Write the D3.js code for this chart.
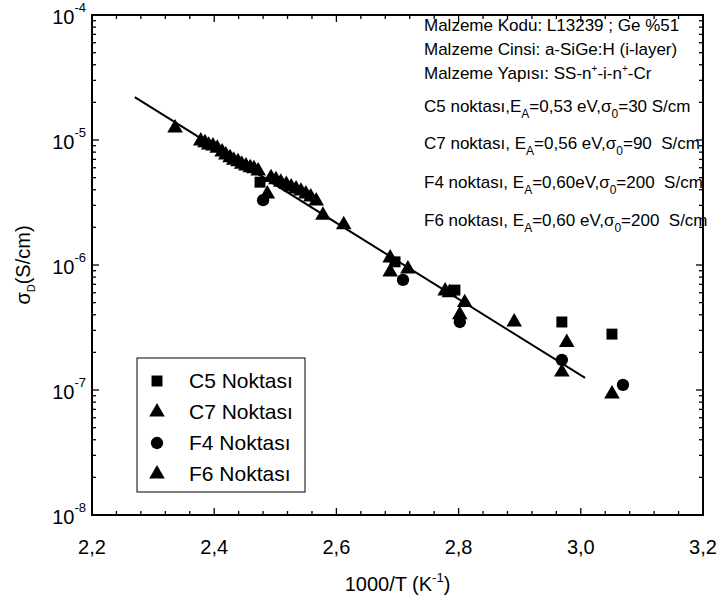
<!DOCTYPE html>
<html>
<head>
<meta charset="utf-8">
<script src="https://cdn.jsdelivr.net/npm/d3@7"></script>
<style>
  body { margin: 0; background: #fff; }
  svg text { font-family: Arial, "Liberation Sans", sans-serif; fill: #000; white-space: pre; }
</style>
</head>
<body>
<div id="chart"></div>
<script>
// C5 (squares)
const c5X = [2.475, 2.696, 2.794, 2.969, 3.051];
const c5Y = [4.6e-6, 1.06e-6, 6.3e-7, 3.5e-7, 2.8e-7];
// C7 (triangles)
const c7X = [2.336, 2.378, 2.385, 2.391, 2.398, 2.405, 2.413, 2.419, 2.426, 2.432, 2.439, 2.445, 2.452, 2.459, 2.465,
  2.688, 2.717, 2.778, 2.810, 2.891, 2.977, 3.051];
const c7Y = [1.25e-5, 9.8e-6, 9.5e-6, 9.1e-6, 8.95e-6, 8.6e-6, 8.0e-6, 7.6e-6, 7.2e-6, 6.9e-6, 6.7e-6, 6.4e-6, 6.2e-6, 6.0e-6, 5.9e-6,
  1.14e-6, 9.3e-7, 6.2e-7, 5.0e-7, 3.5e-7, 2.4e-7, 9.3e-8];
// F4 (circles)
const f4X = [2.480, 2.709, 2.802, 2.969, 3.069];
const f4Y = [3.3e-6, 7.6e-7, 3.5e-7, 1.74e-7, 1.1e-7];
// F6 (triangles)
const f6X = [2.472, 2.487, 2.493, 2.501, 2.509, 2.518, 2.526, 2.534, 2.542, 2.550, 2.558, 2.567, 2.578, 2.612,
  2.688, 2.785, 2.802, 2.969];
const f6Y = [5.65e-6, 3.7e-6, 5.0e-6, 4.8e-6, 4.6e-6, 4.4e-6, 4.2e-6, 4.06e-6, 3.9e-6, 3.7e-6, 3.5e-6, 3.25e-6, 2.5e-6, 2.1e-6,
  8.8e-7, 6.0e-7, 4.0e-7, 1.39e-7];
// linear fit
const fitX = [2.27, 3.007];
const fitY = [2.2e-5, 1.25e-7];

const xTicks = [2.2, 2.4, 2.6, 2.8, 3.0, 3.2];
const yTicks = [1e-8, 1e-7, 1e-6, 1e-5, 1e-4];
const seriesNames = ['C5 Noktası', 'C7 Noktası', 'F4 Noktası', 'F6 Noktası'];

const W = 722, H = 601;
const m = { left: 92, right: 19, top: 15, bottom: 86 };

const svg = d3.select('#chart').append('svg').attr('width', W).attr('height', H);

const x = d3.scaleLinear().domain([2.2, 3.2]).range([m.left, W - m.right]);
const y = d3.scaleLog().domain([1e-8, 1e-4]).range([H - m.bottom, m.top]);

const x0 = x.range()[0], x1 = x.range()[1];
const y0 = y.range()[0], y1 = y.range()[1];

// minor ticks
const xMinor = d3.range(2.2, 3.2001, 0.04).filter(v => Math.abs(Math.round(v * 5) - v * 5) > 1e-6);
const yMinor = [];
for (let e = -8; e < -4; e++) for (let k = 2; k <= 9; k++) yMinor.push(k * Math.pow(10, e));

const tk = svg.append('g').attr('stroke', '#000').attr('stroke-width', 1.3);
xTicks.forEach(v => {
  tk.append('line').attr('x1', x(v)).attr('x2', x(v)).attr('y1', y0).attr('y2', y0 - 7);
  tk.append('line').attr('x1', x(v)).attr('x2', x(v)).attr('y1', y1).attr('y2', y1 + 7);
});
xMinor.forEach(v => {
  tk.append('line').attr('x1', x(v)).attr('x2', x(v)).attr('y1', y0).attr('y2', y0 - 4);
  tk.append('line').attr('x1', x(v)).attr('x2', x(v)).attr('y1', y1).attr('y2', y1 + 4);
});
yTicks.forEach(v => {
  tk.append('line').attr('x1', x0).attr('x2', x0 + 7).attr('y1', y(v)).attr('y2', y(v));
  tk.append('line').attr('x1', x1).attr('x2', x1 - 7).attr('y1', y(v)).attr('y2', y(v));
});
yMinor.forEach(v => {
  tk.append('line').attr('x1', x0).attr('x2', x0 + 4).attr('y1', y(v)).attr('y2', y(v));
  tk.append('line').attr('x1', x1).attr('x2', x1 - 4).attr('y1', y(v)).attr('y2', y(v));
});

// frame
svg.append('rect').attr('x', x0).attr('y', y1).attr('width', x1 - x0).attr('height', y0 - y1)
  .attr('fill', 'none').attr('stroke', '#000').attr('stroke-width', 2);

// x tick labels
svg.append('g').selectAll('text').data(xTicks).enter().append('text')
  .attr('x', d => x(d)).attr('y', y0 + 39).attr('text-anchor', 'middle').attr('font-size', 20)
  .text(d => d.toFixed(1).replace('.', ','));

// y tick labels
const yl = svg.append('g').selectAll('text').data(yTicks).enter().append('text')
  .attr('x', x0 - 6).attr('y', d => y(d) + 9).attr('text-anchor', 'end').attr('font-size', 20);
yl.append('tspan').text('10');
yl.append('tspan').attr('font-size', 13).attr('dy', -12).text(d => Math.round(Math.log10(d)));

// axis titles
const xt = svg.append('text').attr('x', (x0 + x1) / 2).attr('y', 591).attr('text-anchor', 'middle').attr('font-size', 20);
xt.append('tspan').text('1000/T (K');
xt.append('tspan').attr('font-size', 13).attr('dy', -9).text('-1');
xt.append('tspan').attr('dy', 9).text(')');

const yt = svg.append('text').attr('transform', `translate(30,${(y0 + y1) / 2}) rotate(-90)`)
  .attr('text-anchor', 'middle').attr('font-size', 20);
yt.append('tspan').text('σ');
yt.append('tspan').attr('font-size', 11).attr('dy', 5).text('D');
yt.append('tspan').attr('dy', -5).text('(S/cm)');

// fit line
svg.append('line').attr('x1', x(fitX[0])).attr('y1', y(fitY[0])).attr('x2', x(fitX[1])).attr('y2', y(fitY[1]))
  .attr('stroke', '#000').attr('stroke-width', 2);

// markers
const sym = {
  square: d3.symbol().type(d3.symbolSquare).size(120),
  triangle: d3.symbol().type(d3.symbolTriangle).size(105),
  circle: d3.symbol().type(d3.symbolCircle).size(120)
};
function drawSeries(xs, ys, shape) {
  svg.append('g').selectAll('path').data(xs.map((v, i) => [v, ys[i]])).enter().append('path')
    .attr('d', sym[shape]).attr('fill', '#000')
    .attr('transform', d => `translate(${x(d[0])},${y(d[1])})`);
}
drawSeries(c5X, c5Y, 'square');
drawSeries(c7X, c7Y, 'triangle');
drawSeries(f4X, f4Y, 'circle');
drawSeries(f6X, f6Y, 'triangle');

// annotation block
const ann = svg.append('g').attr('font-size', 17);
function line(yPos, parts) {
  const t = ann.append('text').attr('x', 424).attr('y', yPos);
  parts.forEach(p => {
    const s = t.append('tspan').text(p[0]);
    if (p[1] === 'sub') s.attr('font-size', 12).attr('dy', 6);
    if (p[1] === 'sup') s.attr('font-size', 10).attr('dy', -7);
    if (p[1] === 'back') s.attr('dy', -6);
    if (p[1] === 'down') s.attr('dy', 7);
  });
}
line(31, [['Malzeme Kodu: L13239 ; Ge %51']]);
line(55, [['Malzeme Cinsi: a-SiGe:H (i-layer)']]);
line(79, [['Malzeme Yapısı: SS-n'], ['+', 'sup'], ['-i-n', 'down'], ['+', 'sup'], ['-Cr', 'down']]);
line(112, [['C5 noktası,E'], ['A', 'sub'], ['=0,53 eV,σ', 'back'], ['0', 'sub'], ['=30 S/cm', 'back']]);
line(149, [['C7 noktası, E'], ['A', 'sub'], ['=0,56 eV,σ', 'back'], ['0', 'sub'], ['=90  S/cm', 'back']]);
line(188, [['F4 noktası, E'], ['A', 'sub'], ['=0,60eV,σ', 'back'], ['0', 'sub'], ['=200  S/cm', 'back']]);
line(226, [['F6 noktası, E'], ['A', 'sub'], ['=0,60 eV,σ', 'back'], ['0', 'sub'], ['=200  S/cm', 'back']]);

// legend
const lg = svg.append('g');
lg.append('rect').attr('x', 137).attr('y', 358).attr('width', 168).attr('height', 134)
  .attr('fill', '#fff').attr('stroke', '#000').attr('stroke-width', 1);
const lgShapes = ['square', 'triangle', 'circle', 'triangle'];
seriesNames.forEach((n, i) => {
  const ry = 381 + i * 31;
  lg.append('path').attr('d', sym[lgShapes[i]]).attr('fill', '#000').attr('transform', `translate(157,${ry})`);
  lg.append('text').attr('x', 189).attr('y', ry + 7).attr('font-size', 21).text(n);
});
</script>
</body>
</html>
